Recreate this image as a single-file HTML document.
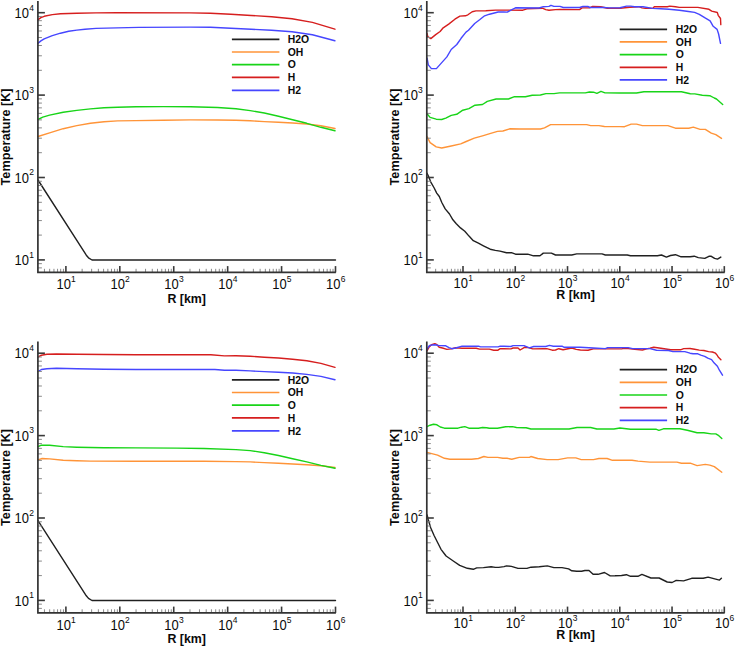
<!DOCTYPE html>
<html><head><meta charset="utf-8"><title>Temperature profiles</title>
<style>
html,body{margin:0;padding:0;background:#fff;}
body{width:735px;height:647px;overflow:hidden;}
svg{display:block;}
text{font-family:"Liberation Sans",sans-serif;fill:#0a0a0a;}
.tl{font-size:13px;}
.sp{font-size:8.5px;}
.tt2{font-size:12.7px;font-weight:bold;}
.tt{font-size:12.4px;font-weight:bold;}
.lg{font-size:10.4px;font-weight:bold;}
</style></head><body>
<svg width="735" height="647" viewBox="0 0 735 647">
<rect width="735" height="647" fill="#fff"/>
<polyline points="38.0,180.0 86.3,255.2 88.5,257.8 92.0,260.0 335.5,260.0" fill="none" stroke="#202020" stroke-width="1.4" stroke-linejoin="round" stroke-linecap="round"/>
<polyline points="38.0,136.5 49.6,132.8 63.2,128.7 76.8,125.6 90.4,123.2 104.0,121.7 117.6,120.9 136.0,120.6 163.2,120.2 190.4,119.9 217.6,120.0 236.0,120.2 250.2,120.8 264.3,121.6 278.5,122.3 292.6,123.0 306.8,124.0 320.9,125.8 335.0,128.5" fill="none" stroke="#ff9438" stroke-width="1.4" stroke-linejoin="round" stroke-linecap="round"/>
<polyline points="38.0,119.5 42.8,117.2 49.6,115.1 63.2,112.3 76.8,110.4 90.4,108.9 104.0,107.8 117.6,107.2 136.0,106.8 163.2,106.6 190.4,106.7 217.6,107.5 236.0,108.8 250.2,110.6 264.3,113.0 278.5,116.2 292.6,119.8 306.8,123.3 320.9,127.3 335.0,130.8" fill="none" stroke="#18d418" stroke-width="1.4" stroke-linejoin="round" stroke-linecap="round"/>
<polyline points="37.8,19.9 40.9,17.6 44.2,16.3 52.3,14.6 60.5,13.8 68.7,13.5 76.8,13.2 96.0,12.9 117.0,12.8 190.0,12.9 210.4,13.3 230.8,14.3 251.2,15.5 271.6,16.7 292.0,18.8 312.4,22.4 334.9,29.2" fill="none" stroke="#d61e1e" stroke-width="1.4" stroke-linejoin="round" stroke-linecap="round"/>
<polyline points="37.8,43.5 40.9,40.9 44.2,38.9 52.3,35.6 60.5,33.2 68.7,31.3 76.8,30.1 85.0,29.2 96.0,28.4 117.0,27.9 138.8,27.4 190.0,27.1 210.4,27.3 230.8,28.2 251.2,29.2 271.6,30.2 292.0,31.8 312.4,34.7 334.9,40.8" fill="none" stroke="#4646ff" stroke-width="1.4" stroke-linejoin="round" stroke-linecap="round"/>
<polyline points="427.1,173.2 429.1,177.8 430.8,182.1 434.2,188.0 436.7,193.1 439.3,196.5 441.8,202.5 445.2,208.9 449.5,214.0 452.9,219.8 456.3,223.7 460.5,227.9 464.8,231.3 469.0,236.1 473.3,240.7 478.4,243.2 483.4,245.8 490.2,249.2 495.3,250.4 500.0,251.1 506.5,252.7 511.4,252.7 515.5,254.2 527.8,254.2 533.5,255.8 540.0,255.8 543.3,253.1 551.4,253.1 555.5,255.0 571.8,255.0 576.7,253.9 602.0,253.9 605.3,255.0 627.2,255.0 630.5,255.8 657.4,255.8 661.5,255.0 666.4,257.1 670.5,255.5 675.4,254.7 681.1,256.8 690.1,256.8 694.2,256.2 698.3,257.6 704.8,258.4 708.9,256.3 711.3,256.3 714.6,258.4 717.5,259.1 720.8,257.1" fill="none" stroke="#202020" stroke-width="1.4" stroke-linejoin="round" stroke-linecap="round"/>
<polyline points="427.0,136.5 430.1,142.6 436.2,146.9 441.7,148.0 451.2,146.0 460.7,143.9 466.2,141.5 474.3,138.2 482.5,135.8 490.7,133.3 497.5,131.4 502.9,131.0 509.7,128.8 520.0,129.0 540.4,129.0 544.5,127.9 550.6,124.6 586.7,124.6 590.7,125.6 598.9,125.6 604.4,126.5 620.0,126.6 624.5,126.7 631.2,124.1 636.5,124.1 642.4,125.6 667.9,125.6 675.4,128.2 688.8,128.2 693.3,127.1 700.1,129.4 705.3,129.4 711.3,133.1 715.8,134.6 721.5,138.4" fill="none" stroke="#ff9438" stroke-width="1.4" stroke-linejoin="round" stroke-linecap="round"/>
<polyline points="427.0,113.7 430.1,117.4 436.2,119.2 441.7,119.5 445.8,118.1 451.2,115.4 456.7,114.3 462.8,110.2 468.9,108.6 475.0,105.2 482.5,104.5 487.3,101.4 496.1,99.0 508.4,99.0 514.5,96.7 525.4,96.7 532.2,95.2 540.4,95.0 545.9,93.6 554.0,93.6 559.5,92.9 585.3,92.9 589.4,92.0 593.5,92.2 596.9,93.3 601.0,91.3 605.0,92.9 620.0,93.0 636.5,93.0 643.9,91.7 681.4,91.7 690.3,93.8 694.8,93.9 702.3,95.3 709.8,95.7 714.3,98.0 716.5,99.0 722.7,104.6" fill="none" stroke="#18d418" stroke-width="1.4" stroke-linejoin="round" stroke-linecap="round"/>
<polyline points="427.1,33.4 427.7,36.5 430.8,38.6 435.7,34.6 440.1,31.5 443.2,27.8 448.7,24.1 454.9,19.2 459.9,16.1 465.4,15.8 467.9,14.8 472.2,11.7 475.9,10.9 485.8,10.8 495.7,10.1 504.0,10.1 522.9,10.2 526.9,8.8 542.4,8.2 545.7,9.6 549.0,10.2 555.5,9.6 560.0,9.5 579.6,9.6 582.0,7.9 589.4,7.9 592.7,6.5 600.8,6.7 607.3,8.2 620.0,8.2 629.8,7.2 638.8,6.7 642.0,7.9 645.3,8.4 652.7,8.4 654.3,6.7 667.3,6.7 669.8,6.1 675.5,6.7 679.3,7.4 697.8,7.4 709.0,9.3 711.7,11.1 717.3,12.5 718.2,15.3 720.5,18.5 720.8,24.6" fill="none" stroke="#d61e1e" stroke-width="1.4" stroke-linejoin="round" stroke-linecap="round"/>
<polyline points="427.1,58.1 428.3,64.9 431.4,68.6 436.4,68.6 441.3,63.1 446.9,56.9 451.2,49.5 456.8,44.5 461.1,38.3 466.0,32.1 468.5,30.3 474.7,23.5 479.6,19.8 484.6,15.8 489.5,14.2 498.2,12.0 504.0,12.0 507.3,12.1 511.4,9.8 515.5,7.8 539.2,8.0 543.3,6.7 549.0,6.4 551.0,5.3 553.9,6.4 560.0,6.4 563.3,7.5 579.6,7.5 582.9,6.5 587.8,6.5 590.2,7.5 604.1,7.5 609.0,7.9 620.0,7.7 626.5,6.1 630.6,6.1 634.7,6.7 642.9,6.7 652.7,8.4 660.8,8.8 669.0,9.3 679.3,10.2 688.5,11.5 694.6,12.4 699.3,14.3 705.5,18.2 710.1,20.9 713.2,26.3 717.1,29.4 718.6,34.0 720.5,43.3" fill="none" stroke="#4646ff" stroke-width="1.4" stroke-linejoin="round" stroke-linecap="round"/>
<polyline points="38.0,520.6 86.3,595.8 88.5,598.4 92.0,600.5 335.5,600.5" fill="none" stroke="#202020" stroke-width="1.4" stroke-linejoin="round" stroke-linecap="round"/>
<polyline points="38.0,459.8 42.1,458.5 49.6,458.9 63.2,460.2 76.8,460.7 90.4,461.1 136.0,461.3 204.0,461.3 236.0,461.6 250.2,461.9 264.3,462.6 278.5,463.3 292.6,464.0 306.8,464.7 320.9,465.8 335.0,467.5" fill="none" stroke="#ff9438" stroke-width="1.4" stroke-linejoin="round" stroke-linecap="round"/>
<polyline points="38.0,446.6 41.4,445.1 49.6,445.2 63.2,446.6 76.8,447.2 90.4,447.5 104.0,447.8 136.0,447.9 176.8,448.1 204.0,448.5 236.0,449.6 250.2,450.6 264.3,452.7 278.5,455.5 292.6,458.8 306.8,461.9 320.9,465.4 335.0,468.3" fill="none" stroke="#18d418" stroke-width="1.4" stroke-linejoin="round" stroke-linecap="round"/>
<polyline points="38.0,357.2 41.4,355.2 46.9,354.3 56.4,354.0 76.8,354.3 104.0,354.5 136.0,354.8 163.2,354.8 210.8,354.8 224.4,355.9 236.0,355.8 250.2,356.3 264.3,357.2 278.5,358.0 292.6,359.2 306.8,360.8 320.9,363.4 335.0,367.4" fill="none" stroke="#d61e1e" stroke-width="1.4" stroke-linejoin="round" stroke-linecap="round"/>
<polyline points="38.0,371.5 41.4,369.5 46.9,368.7 56.4,368.3 76.8,368.8 104.0,369.2 136.0,369.5 214.9,369.5 224.4,370.3 236.0,370.3 250.2,370.9 264.3,371.6 278.5,372.2 292.6,373.0 306.8,374.4 320.9,376.4 335.0,379.7" fill="none" stroke="#4646ff" stroke-width="1.4" stroke-linejoin="round" stroke-linecap="round"/>
<polyline points="427.1,515.0 428.2,519.5 430.8,528.0 434.2,535.7 437.6,542.5 441.0,549.3 446.1,556.0 452.9,560.8 459.7,565.4 467.3,568.3 473.3,569.3 476.7,567.9 483.4,567.6 491.1,566.8 495.3,567.4 498.7,567.4 504.0,566.6 506.5,565.9 511.4,566.4 518.0,568.4 526.9,568.4 531.0,567.2 539.2,566.8 547.3,565.9 553.9,567.6 562.0,567.6 568.6,568.9 571.8,570.8 576.7,571.3 581.6,571.3 584.9,570.5 589.0,570.5 593.1,574.3 598.0,574.3 604.5,572.5 610.2,575.9 615.0,575.8 621.5,575.5 626.4,574.7 630.5,576.3 637.9,576.3 641.9,574.4 650.9,578.0 659.1,578.0 667.2,582.0 672.1,582.5 676.2,580.4 683.6,580.9 691.7,578.3 703.2,578.3 708.1,577.1 719.5,580.1 721.4,578.3" fill="none" stroke="#202020" stroke-width="1.4" stroke-linejoin="round" stroke-linecap="round"/>
<polyline points="427.0,452.4 430.8,453.4 437.6,455.1 444.4,458.3 449.9,459.2 471.6,459.2 478.4,458.5 483.9,456.5 487.9,457.4 497.5,457.4 502.9,458.3 507.0,458.3 511.8,459.2 519.2,457.4 529.5,457.4 530.9,456.5 537.7,458.5 547.2,459.6 558.1,459.6 567.6,457.9 575.8,457.9 581.2,459.6 593.5,459.6 598.9,458.5 607.1,458.5 612.5,460.3 620.0,460.1 632.0,460.2 638.0,461.1 649.9,462.1 676.9,462.1 681.4,463.2 690.3,463.2 697.1,465.6 705.3,464.4 709.8,465.1 714.3,466.6 721.8,472.2" fill="none" stroke="#ff9438" stroke-width="1.4" stroke-linejoin="round" stroke-linecap="round"/>
<polyline points="427.0,426.6 430.1,425.2 433.5,424.3 436.9,424.8 440.3,427.0 444.4,428.2 458.0,428.2 461.4,427.2 464.8,426.6 468.9,428.2 478.4,428.2 482.5,427.5 486.6,427.7 489.3,428.3 497.5,428.3 505.6,426.8 512.4,426.6 516.5,427.5 524.0,427.7 526.1,427.7 530.9,429.0 569.0,429.0 577.1,427.5 590.7,427.5 596.9,429.0 613.9,429.0 620.0,428.0 630.5,429.2 655.9,429.2 658.9,430.3 663.4,428.8 679.9,428.8 687.3,430.3 697.1,432.7 703.8,432.7 711.3,433.9 715.8,433.9 718.8,435.7 721.8,438.6" fill="none" stroke="#18d418" stroke-width="1.4" stroke-linejoin="round" stroke-linecap="round"/>
<polyline points="427.0,350.8 428.9,347.3 431.6,344.7 434.9,343.7 436.5,344.3 439.2,347.3 442.5,348.0 446.9,349.4 451.2,348.9 455.6,347.8 462.1,348.3 476.2,348.3 479.5,349.1 489.3,349.1 493.7,350.2 498.0,350.2 500.2,348.7 504.0,348.8 510.9,348.9 513.1,348.0 518.0,348.0 520.1,350.0 524.5,347.3 528.3,347.6 532.7,348.9 543.5,348.7 546.8,348.7 552.2,350.2 555.5,350.0 558.8,348.7 563.1,349.8 571.8,348.0 576.2,349.4 580.4,350.0 588.0,350.2 593.4,348.9 621.7,348.9 623.9,348.3 628.2,348.6 634.8,349.4 642.4,350.0 646.7,348.9 650.0,348.3 653.8,347.3 660.9,348.3 670.7,349.8 680.5,349.8 683.7,348.6 690.0,348.5 694.6,349.3 699.3,350.1 703.9,350.5 708.6,351.6 712.4,352.0 715.5,353.2 717.1,355.1 718.2,357.0 720.9,359.7" fill="none" stroke="#d61e1e" stroke-width="1.4" stroke-linejoin="round" stroke-linecap="round"/>
<polyline points="427.0,349.4 428.9,346.2 430.5,345.1 434.9,344.7 439.2,345.6 445.8,345.8 449.0,347.6 451.8,348.7 455.6,348.0 462.1,346.2 478.4,346.2 480.6,346.9 498.0,346.9 500.2,346.2 504.0,346.3 510.9,346.5 513.1,345.6 524.0,345.6 529.4,347.8 533.7,346.5 545.7,346.5 549.5,345.4 553.3,346.2 562.0,346.2 564.2,347.3 580.0,347.2 593.4,348.0 605.4,348.6 607.6,347.6 628.2,347.6 632.6,348.6 650.0,348.6 656.5,350.2 668.5,350.5 672.9,351.6 684.8,351.6 690.0,353.2 693.1,353.8 697.3,353.6 700.8,355.1 704.7,356.3 707.8,358.2 711.6,359.6 714.0,362.8 717.4,366.3 719.4,370.2 722.5,375.2" fill="none" stroke="#4646ff" stroke-width="1.4" stroke-linejoin="round" stroke-linecap="round"/>
<line x1="37.90" y1="267.89" x2="41.90" y2="267.89" stroke="#8a8a8a" stroke-width="1"/>
<line x1="37.90" y1="263.67" x2="41.90" y2="263.67" stroke="#8a8a8a" stroke-width="1"/>
<line x1="37.90" y1="259.90" x2="44.90" y2="259.90" stroke="#3a3a3a" stroke-width="1.6"/>
<line x1="37.90" y1="235.10" x2="41.90" y2="235.10" stroke="#8a8a8a" stroke-width="1"/>
<line x1="37.90" y1="220.59" x2="41.90" y2="220.59" stroke="#8a8a8a" stroke-width="1"/>
<line x1="37.90" y1="210.29" x2="41.90" y2="210.29" stroke="#8a8a8a" stroke-width="1"/>
<line x1="37.90" y1="202.30" x2="41.90" y2="202.30" stroke="#8a8a8a" stroke-width="1"/>
<line x1="37.90" y1="195.78" x2="41.90" y2="195.78" stroke="#8a8a8a" stroke-width="1"/>
<line x1="37.90" y1="190.26" x2="41.90" y2="190.26" stroke="#8a8a8a" stroke-width="1"/>
<line x1="37.90" y1="185.49" x2="41.90" y2="185.49" stroke="#8a8a8a" stroke-width="1"/>
<line x1="37.90" y1="181.27" x2="41.90" y2="181.27" stroke="#8a8a8a" stroke-width="1"/>
<line x1="37.90" y1="177.50" x2="44.90" y2="177.50" stroke="#3a3a3a" stroke-width="1.6"/>
<line x1="37.90" y1="152.70" x2="41.90" y2="152.70" stroke="#8a8a8a" stroke-width="1"/>
<line x1="37.90" y1="138.19" x2="41.90" y2="138.19" stroke="#8a8a8a" stroke-width="1"/>
<line x1="37.90" y1="127.89" x2="41.90" y2="127.89" stroke="#8a8a8a" stroke-width="1"/>
<line x1="37.90" y1="119.90" x2="41.90" y2="119.90" stroke="#8a8a8a" stroke-width="1"/>
<line x1="37.90" y1="113.38" x2="41.90" y2="113.38" stroke="#8a8a8a" stroke-width="1"/>
<line x1="37.90" y1="107.86" x2="41.90" y2="107.86" stroke="#8a8a8a" stroke-width="1"/>
<line x1="37.90" y1="103.09" x2="41.90" y2="103.09" stroke="#8a8a8a" stroke-width="1"/>
<line x1="37.90" y1="98.87" x2="41.90" y2="98.87" stroke="#8a8a8a" stroke-width="1"/>
<line x1="37.90" y1="95.10" x2="44.90" y2="95.10" stroke="#3a3a3a" stroke-width="1.6"/>
<line x1="37.90" y1="70.30" x2="41.90" y2="70.30" stroke="#8a8a8a" stroke-width="1"/>
<line x1="37.90" y1="55.79" x2="41.90" y2="55.79" stroke="#8a8a8a" stroke-width="1"/>
<line x1="37.90" y1="45.49" x2="41.90" y2="45.49" stroke="#8a8a8a" stroke-width="1"/>
<line x1="37.90" y1="37.50" x2="41.90" y2="37.50" stroke="#8a8a8a" stroke-width="1"/>
<line x1="37.90" y1="30.98" x2="41.90" y2="30.98" stroke="#8a8a8a" stroke-width="1"/>
<line x1="37.90" y1="25.46" x2="41.90" y2="25.46" stroke="#8a8a8a" stroke-width="1"/>
<line x1="37.90" y1="20.69" x2="41.90" y2="20.69" stroke="#8a8a8a" stroke-width="1"/>
<line x1="37.90" y1="16.47" x2="41.90" y2="16.47" stroke="#8a8a8a" stroke-width="1"/>
<line x1="37.90" y1="12.70" x2="44.90" y2="12.70" stroke="#3a3a3a" stroke-width="1.6"/>
<line x1="44.44" y1="272.40" x2="44.44" y2="268.80" stroke="#8a8a8a" stroke-width="1"/>
<line x1="49.67" y1="272.40" x2="49.67" y2="268.80" stroke="#8a8a8a" stroke-width="1"/>
<line x1="53.94" y1="272.40" x2="53.94" y2="268.80" stroke="#8a8a8a" stroke-width="1"/>
<line x1="57.55" y1="272.40" x2="57.55" y2="268.80" stroke="#8a8a8a" stroke-width="1"/>
<line x1="60.67" y1="272.40" x2="60.67" y2="268.80" stroke="#8a8a8a" stroke-width="1"/>
<line x1="63.43" y1="272.40" x2="63.43" y2="268.80" stroke="#8a8a8a" stroke-width="1"/>
<line x1="65.90" y1="272.40" x2="65.90" y2="266.10" stroke="#3a3a3a" stroke-width="1.6"/>
<line x1="82.13" y1="272.40" x2="82.13" y2="268.80" stroke="#8a8a8a" stroke-width="1"/>
<line x1="91.63" y1="272.40" x2="91.63" y2="268.80" stroke="#8a8a8a" stroke-width="1"/>
<line x1="98.36" y1="272.40" x2="98.36" y2="268.80" stroke="#8a8a8a" stroke-width="1"/>
<line x1="103.59" y1="272.40" x2="103.59" y2="268.80" stroke="#8a8a8a" stroke-width="1"/>
<line x1="107.86" y1="272.40" x2="107.86" y2="268.80" stroke="#8a8a8a" stroke-width="1"/>
<line x1="111.47" y1="272.40" x2="111.47" y2="268.80" stroke="#8a8a8a" stroke-width="1"/>
<line x1="114.59" y1="272.40" x2="114.59" y2="268.80" stroke="#8a8a8a" stroke-width="1"/>
<line x1="117.35" y1="272.40" x2="117.35" y2="268.80" stroke="#8a8a8a" stroke-width="1"/>
<line x1="119.82" y1="272.40" x2="119.82" y2="266.10" stroke="#3a3a3a" stroke-width="1.6"/>
<line x1="136.05" y1="272.40" x2="136.05" y2="268.80" stroke="#8a8a8a" stroke-width="1"/>
<line x1="145.55" y1="272.40" x2="145.55" y2="268.80" stroke="#8a8a8a" stroke-width="1"/>
<line x1="152.28" y1="272.40" x2="152.28" y2="268.80" stroke="#8a8a8a" stroke-width="1"/>
<line x1="157.51" y1="272.40" x2="157.51" y2="268.80" stroke="#8a8a8a" stroke-width="1"/>
<line x1="161.78" y1="272.40" x2="161.78" y2="268.80" stroke="#8a8a8a" stroke-width="1"/>
<line x1="165.39" y1="272.40" x2="165.39" y2="268.80" stroke="#8a8a8a" stroke-width="1"/>
<line x1="168.51" y1="272.40" x2="168.51" y2="268.80" stroke="#8a8a8a" stroke-width="1"/>
<line x1="171.27" y1="272.40" x2="171.27" y2="268.80" stroke="#8a8a8a" stroke-width="1"/>
<line x1="173.74" y1="272.40" x2="173.74" y2="266.10" stroke="#3a3a3a" stroke-width="1.6"/>
<line x1="189.97" y1="272.40" x2="189.97" y2="268.80" stroke="#8a8a8a" stroke-width="1"/>
<line x1="199.47" y1="272.40" x2="199.47" y2="268.80" stroke="#8a8a8a" stroke-width="1"/>
<line x1="206.20" y1="272.40" x2="206.20" y2="268.80" stroke="#8a8a8a" stroke-width="1"/>
<line x1="211.43" y1="272.40" x2="211.43" y2="268.80" stroke="#8a8a8a" stroke-width="1"/>
<line x1="215.70" y1="272.40" x2="215.70" y2="268.80" stroke="#8a8a8a" stroke-width="1"/>
<line x1="219.31" y1="272.40" x2="219.31" y2="268.80" stroke="#8a8a8a" stroke-width="1"/>
<line x1="222.43" y1="272.40" x2="222.43" y2="268.80" stroke="#8a8a8a" stroke-width="1"/>
<line x1="225.19" y1="272.40" x2="225.19" y2="268.80" stroke="#8a8a8a" stroke-width="1"/>
<line x1="227.66" y1="272.40" x2="227.66" y2="266.10" stroke="#3a3a3a" stroke-width="1.6"/>
<line x1="243.89" y1="272.40" x2="243.89" y2="268.80" stroke="#8a8a8a" stroke-width="1"/>
<line x1="253.39" y1="272.40" x2="253.39" y2="268.80" stroke="#8a8a8a" stroke-width="1"/>
<line x1="260.12" y1="272.40" x2="260.12" y2="268.80" stroke="#8a8a8a" stroke-width="1"/>
<line x1="265.35" y1="272.40" x2="265.35" y2="268.80" stroke="#8a8a8a" stroke-width="1"/>
<line x1="269.62" y1="272.40" x2="269.62" y2="268.80" stroke="#8a8a8a" stroke-width="1"/>
<line x1="273.23" y1="272.40" x2="273.23" y2="268.80" stroke="#8a8a8a" stroke-width="1"/>
<line x1="276.35" y1="272.40" x2="276.35" y2="268.80" stroke="#8a8a8a" stroke-width="1"/>
<line x1="279.11" y1="272.40" x2="279.11" y2="268.80" stroke="#8a8a8a" stroke-width="1"/>
<line x1="281.58" y1="272.40" x2="281.58" y2="266.10" stroke="#3a3a3a" stroke-width="1.6"/>
<line x1="297.81" y1="272.40" x2="297.81" y2="268.80" stroke="#8a8a8a" stroke-width="1"/>
<line x1="307.31" y1="272.40" x2="307.31" y2="268.80" stroke="#8a8a8a" stroke-width="1"/>
<line x1="314.04" y1="272.40" x2="314.04" y2="268.80" stroke="#8a8a8a" stroke-width="1"/>
<line x1="319.27" y1="272.40" x2="319.27" y2="268.80" stroke="#8a8a8a" stroke-width="1"/>
<line x1="323.54" y1="272.40" x2="323.54" y2="268.80" stroke="#8a8a8a" stroke-width="1"/>
<line x1="327.15" y1="272.40" x2="327.15" y2="268.80" stroke="#8a8a8a" stroke-width="1"/>
<line x1="330.27" y1="272.40" x2="330.27" y2="268.80" stroke="#8a8a8a" stroke-width="1"/>
<line x1="333.03" y1="272.40" x2="333.03" y2="268.80" stroke="#8a8a8a" stroke-width="1"/>
<line x1="335.50" y1="272.40" x2="335.50" y2="266.10" stroke="#3a3a3a" stroke-width="1.6"/>
<path d="M37.90 1.10 V272.40 H335.90" fill="none" stroke="#333333" stroke-width="1.7"/>
<text class="tl" text-anchor="end" transform="translate(29.00 265.10) scale(1 1.12)">10</text>
<text class="sp" transform="translate(29.20 257.70) scale(1 1.12)">1</text>
<text class="tl" text-anchor="end" transform="translate(29.00 182.70) scale(1 1.12)">10</text>
<text class="sp" transform="translate(29.20 175.30) scale(1 1.12)">2</text>
<text class="tl" text-anchor="end" transform="translate(29.00 100.30) scale(1 1.12)">10</text>
<text class="sp" transform="translate(29.20 92.90) scale(1 1.12)">3</text>
<text class="tl" text-anchor="end" transform="translate(29.00 17.90) scale(1 1.12)">10</text>
<text class="sp" transform="translate(29.20 10.50) scale(1 1.12)">4</text>
<text class="tl" transform="translate(56.50 289.40) scale(1 1.12)">10</text>
<text class="sp" transform="translate(71.10 282.30) scale(1 1.12)">1</text>
<text class="tl" transform="translate(110.42 289.40) scale(1 1.12)">10</text>
<text class="sp" transform="translate(125.02 282.30) scale(1 1.12)">2</text>
<text class="tl" transform="translate(164.34 289.40) scale(1 1.12)">10</text>
<text class="sp" transform="translate(178.94 282.30) scale(1 1.12)">3</text>
<text class="tl" transform="translate(218.26 289.40) scale(1 1.12)">10</text>
<text class="sp" transform="translate(232.86 282.30) scale(1 1.12)">4</text>
<text class="tl" transform="translate(272.18 289.40) scale(1 1.12)">10</text>
<text class="sp" transform="translate(286.78 282.30) scale(1 1.12)">5</text>
<text class="tl" transform="translate(326.10 289.40) scale(1 1.12)">10</text>
<text class="sp" transform="translate(340.70 282.30) scale(1 1.12)">6</text>
<text x="186.70" y="302.60" class="tt" text-anchor="middle">R [km]</text>
<text x="0" y="0" class="tt2" text-anchor="middle" transform="translate(9.90 136.95) rotate(-90)">Temperature [K]</text>
<line x1="426.80" y1="267.89" x2="430.80" y2="267.89" stroke="#8a8a8a" stroke-width="1"/>
<line x1="426.80" y1="263.67" x2="430.80" y2="263.67" stroke="#8a8a8a" stroke-width="1"/>
<line x1="426.80" y1="259.90" x2="433.80" y2="259.90" stroke="#3a3a3a" stroke-width="1.6"/>
<line x1="426.80" y1="235.10" x2="430.80" y2="235.10" stroke="#8a8a8a" stroke-width="1"/>
<line x1="426.80" y1="220.59" x2="430.80" y2="220.59" stroke="#8a8a8a" stroke-width="1"/>
<line x1="426.80" y1="210.29" x2="430.80" y2="210.29" stroke="#8a8a8a" stroke-width="1"/>
<line x1="426.80" y1="202.30" x2="430.80" y2="202.30" stroke="#8a8a8a" stroke-width="1"/>
<line x1="426.80" y1="195.78" x2="430.80" y2="195.78" stroke="#8a8a8a" stroke-width="1"/>
<line x1="426.80" y1="190.26" x2="430.80" y2="190.26" stroke="#8a8a8a" stroke-width="1"/>
<line x1="426.80" y1="185.49" x2="430.80" y2="185.49" stroke="#8a8a8a" stroke-width="1"/>
<line x1="426.80" y1="181.27" x2="430.80" y2="181.27" stroke="#8a8a8a" stroke-width="1"/>
<line x1="426.80" y1="177.50" x2="433.80" y2="177.50" stroke="#3a3a3a" stroke-width="1.6"/>
<line x1="426.80" y1="152.70" x2="430.80" y2="152.70" stroke="#8a8a8a" stroke-width="1"/>
<line x1="426.80" y1="138.19" x2="430.80" y2="138.19" stroke="#8a8a8a" stroke-width="1"/>
<line x1="426.80" y1="127.89" x2="430.80" y2="127.89" stroke="#8a8a8a" stroke-width="1"/>
<line x1="426.80" y1="119.90" x2="430.80" y2="119.90" stroke="#8a8a8a" stroke-width="1"/>
<line x1="426.80" y1="113.38" x2="430.80" y2="113.38" stroke="#8a8a8a" stroke-width="1"/>
<line x1="426.80" y1="107.86" x2="430.80" y2="107.86" stroke="#8a8a8a" stroke-width="1"/>
<line x1="426.80" y1="103.09" x2="430.80" y2="103.09" stroke="#8a8a8a" stroke-width="1"/>
<line x1="426.80" y1="98.87" x2="430.80" y2="98.87" stroke="#8a8a8a" stroke-width="1"/>
<line x1="426.80" y1="95.10" x2="433.80" y2="95.10" stroke="#3a3a3a" stroke-width="1.6"/>
<line x1="426.80" y1="70.30" x2="430.80" y2="70.30" stroke="#8a8a8a" stroke-width="1"/>
<line x1="426.80" y1="55.79" x2="430.80" y2="55.79" stroke="#8a8a8a" stroke-width="1"/>
<line x1="426.80" y1="45.49" x2="430.80" y2="45.49" stroke="#8a8a8a" stroke-width="1"/>
<line x1="426.80" y1="37.50" x2="430.80" y2="37.50" stroke="#8a8a8a" stroke-width="1"/>
<line x1="426.80" y1="30.98" x2="430.80" y2="30.98" stroke="#8a8a8a" stroke-width="1"/>
<line x1="426.80" y1="25.46" x2="430.80" y2="25.46" stroke="#8a8a8a" stroke-width="1"/>
<line x1="426.80" y1="20.69" x2="430.80" y2="20.69" stroke="#8a8a8a" stroke-width="1"/>
<line x1="426.80" y1="16.47" x2="430.80" y2="16.47" stroke="#8a8a8a" stroke-width="1"/>
<line x1="426.80" y1="12.70" x2="433.80" y2="12.70" stroke="#3a3a3a" stroke-width="1.6"/>
<line x1="435.67" y1="272.40" x2="435.67" y2="268.80" stroke="#8a8a8a" stroke-width="1"/>
<line x1="442.20" y1="272.40" x2="442.20" y2="268.80" stroke="#8a8a8a" stroke-width="1"/>
<line x1="447.27" y1="272.40" x2="447.27" y2="268.80" stroke="#8a8a8a" stroke-width="1"/>
<line x1="451.41" y1="272.40" x2="451.41" y2="268.80" stroke="#8a8a8a" stroke-width="1"/>
<line x1="454.90" y1="272.40" x2="454.90" y2="268.80" stroke="#8a8a8a" stroke-width="1"/>
<line x1="457.94" y1="272.40" x2="457.94" y2="268.80" stroke="#8a8a8a" stroke-width="1"/>
<line x1="460.61" y1="272.40" x2="460.61" y2="268.80" stroke="#8a8a8a" stroke-width="1"/>
<line x1="463.00" y1="272.40" x2="463.00" y2="266.10" stroke="#3a3a3a" stroke-width="1.6"/>
<line x1="478.73" y1="272.40" x2="478.73" y2="268.80" stroke="#8a8a8a" stroke-width="1"/>
<line x1="487.93" y1="272.40" x2="487.93" y2="268.80" stroke="#8a8a8a" stroke-width="1"/>
<line x1="494.46" y1="272.40" x2="494.46" y2="268.80" stroke="#8a8a8a" stroke-width="1"/>
<line x1="499.53" y1="272.40" x2="499.53" y2="268.80" stroke="#8a8a8a" stroke-width="1"/>
<line x1="503.67" y1="272.40" x2="503.67" y2="268.80" stroke="#8a8a8a" stroke-width="1"/>
<line x1="507.16" y1="272.40" x2="507.16" y2="268.80" stroke="#8a8a8a" stroke-width="1"/>
<line x1="510.20" y1="272.40" x2="510.20" y2="268.80" stroke="#8a8a8a" stroke-width="1"/>
<line x1="512.87" y1="272.40" x2="512.87" y2="268.80" stroke="#8a8a8a" stroke-width="1"/>
<line x1="515.26" y1="272.40" x2="515.26" y2="266.10" stroke="#3a3a3a" stroke-width="1.6"/>
<line x1="530.99" y1="272.40" x2="530.99" y2="268.80" stroke="#8a8a8a" stroke-width="1"/>
<line x1="540.19" y1="272.40" x2="540.19" y2="268.80" stroke="#8a8a8a" stroke-width="1"/>
<line x1="546.72" y1="272.40" x2="546.72" y2="268.80" stroke="#8a8a8a" stroke-width="1"/>
<line x1="551.79" y1="272.40" x2="551.79" y2="268.80" stroke="#8a8a8a" stroke-width="1"/>
<line x1="555.93" y1="272.40" x2="555.93" y2="268.80" stroke="#8a8a8a" stroke-width="1"/>
<line x1="559.42" y1="272.40" x2="559.42" y2="268.80" stroke="#8a8a8a" stroke-width="1"/>
<line x1="562.46" y1="272.40" x2="562.46" y2="268.80" stroke="#8a8a8a" stroke-width="1"/>
<line x1="565.13" y1="272.40" x2="565.13" y2="268.80" stroke="#8a8a8a" stroke-width="1"/>
<line x1="567.52" y1="272.40" x2="567.52" y2="266.10" stroke="#3a3a3a" stroke-width="1.6"/>
<line x1="583.25" y1="272.40" x2="583.25" y2="268.80" stroke="#8a8a8a" stroke-width="1"/>
<line x1="592.45" y1="272.40" x2="592.45" y2="268.80" stroke="#8a8a8a" stroke-width="1"/>
<line x1="598.98" y1="272.40" x2="598.98" y2="268.80" stroke="#8a8a8a" stroke-width="1"/>
<line x1="604.05" y1="272.40" x2="604.05" y2="268.80" stroke="#8a8a8a" stroke-width="1"/>
<line x1="608.19" y1="272.40" x2="608.19" y2="268.80" stroke="#8a8a8a" stroke-width="1"/>
<line x1="611.68" y1="272.40" x2="611.68" y2="268.80" stroke="#8a8a8a" stroke-width="1"/>
<line x1="614.72" y1="272.40" x2="614.72" y2="268.80" stroke="#8a8a8a" stroke-width="1"/>
<line x1="617.39" y1="272.40" x2="617.39" y2="268.80" stroke="#8a8a8a" stroke-width="1"/>
<line x1="619.78" y1="272.40" x2="619.78" y2="266.10" stroke="#3a3a3a" stroke-width="1.6"/>
<line x1="635.51" y1="272.40" x2="635.51" y2="268.80" stroke="#8a8a8a" stroke-width="1"/>
<line x1="644.71" y1="272.40" x2="644.71" y2="268.80" stroke="#8a8a8a" stroke-width="1"/>
<line x1="651.24" y1="272.40" x2="651.24" y2="268.80" stroke="#8a8a8a" stroke-width="1"/>
<line x1="656.31" y1="272.40" x2="656.31" y2="268.80" stroke="#8a8a8a" stroke-width="1"/>
<line x1="660.45" y1="272.40" x2="660.45" y2="268.80" stroke="#8a8a8a" stroke-width="1"/>
<line x1="663.94" y1="272.40" x2="663.94" y2="268.80" stroke="#8a8a8a" stroke-width="1"/>
<line x1="666.98" y1="272.40" x2="666.98" y2="268.80" stroke="#8a8a8a" stroke-width="1"/>
<line x1="669.65" y1="272.40" x2="669.65" y2="268.80" stroke="#8a8a8a" stroke-width="1"/>
<line x1="672.04" y1="272.40" x2="672.04" y2="266.10" stroke="#3a3a3a" stroke-width="1.6"/>
<line x1="687.77" y1="272.40" x2="687.77" y2="268.80" stroke="#8a8a8a" stroke-width="1"/>
<line x1="696.97" y1="272.40" x2="696.97" y2="268.80" stroke="#8a8a8a" stroke-width="1"/>
<line x1="703.50" y1="272.40" x2="703.50" y2="268.80" stroke="#8a8a8a" stroke-width="1"/>
<line x1="708.57" y1="272.40" x2="708.57" y2="268.80" stroke="#8a8a8a" stroke-width="1"/>
<line x1="712.71" y1="272.40" x2="712.71" y2="268.80" stroke="#8a8a8a" stroke-width="1"/>
<line x1="716.20" y1="272.40" x2="716.20" y2="268.80" stroke="#8a8a8a" stroke-width="1"/>
<line x1="719.24" y1="272.40" x2="719.24" y2="268.80" stroke="#8a8a8a" stroke-width="1"/>
<line x1="721.91" y1="272.40" x2="721.91" y2="268.80" stroke="#8a8a8a" stroke-width="1"/>
<line x1="724.30" y1="272.40" x2="724.30" y2="266.10" stroke="#3a3a3a" stroke-width="1.6"/>
<path d="M426.80 1.10 V272.40 H724.70" fill="none" stroke="#333333" stroke-width="1.7"/>
<text class="tl" text-anchor="end" transform="translate(417.90 265.10) scale(1 1.12)">10</text>
<text class="sp" transform="translate(418.10 257.70) scale(1 1.12)">1</text>
<text class="tl" text-anchor="end" transform="translate(417.90 182.70) scale(1 1.12)">10</text>
<text class="sp" transform="translate(418.10 175.30) scale(1 1.12)">2</text>
<text class="tl" text-anchor="end" transform="translate(417.90 100.30) scale(1 1.12)">10</text>
<text class="sp" transform="translate(418.10 92.90) scale(1 1.12)">3</text>
<text class="tl" text-anchor="end" transform="translate(417.90 17.90) scale(1 1.12)">10</text>
<text class="sp" transform="translate(418.10 10.50) scale(1 1.12)">4</text>
<text class="tl" transform="translate(453.60 287.90) scale(1 1.12)">10</text>
<text class="sp" transform="translate(468.20 280.80) scale(1 1.12)">1</text>
<text class="tl" transform="translate(505.86 287.90) scale(1 1.12)">10</text>
<text class="sp" transform="translate(520.46 280.80) scale(1 1.12)">2</text>
<text class="tl" transform="translate(558.12 287.90) scale(1 1.12)">10</text>
<text class="sp" transform="translate(572.72 280.80) scale(1 1.12)">3</text>
<text class="tl" transform="translate(610.38 287.90) scale(1 1.12)">10</text>
<text class="sp" transform="translate(624.98 280.80) scale(1 1.12)">4</text>
<text class="tl" transform="translate(662.64 287.90) scale(1 1.12)">10</text>
<text class="sp" transform="translate(677.24 280.80) scale(1 1.12)">5</text>
<text class="tl" transform="translate(714.90 287.90) scale(1 1.12)">10</text>
<text class="sp" transform="translate(729.50 280.80) scale(1 1.12)">6</text>
<text x="575.55" y="298.80" class="tt" text-anchor="middle">R [km]</text>
<text x="0" y="0" class="tt2" text-anchor="middle" transform="translate(399.00 136.95) rotate(-90)">Temperature [K]</text>
<line x1="37.90" y1="608.39" x2="41.90" y2="608.39" stroke="#8a8a8a" stroke-width="1"/>
<line x1="37.90" y1="604.17" x2="41.90" y2="604.17" stroke="#8a8a8a" stroke-width="1"/>
<line x1="37.90" y1="600.40" x2="44.90" y2="600.40" stroke="#3a3a3a" stroke-width="1.6"/>
<line x1="37.90" y1="575.60" x2="41.90" y2="575.60" stroke="#8a8a8a" stroke-width="1"/>
<line x1="37.90" y1="561.09" x2="41.90" y2="561.09" stroke="#8a8a8a" stroke-width="1"/>
<line x1="37.90" y1="550.79" x2="41.90" y2="550.79" stroke="#8a8a8a" stroke-width="1"/>
<line x1="37.90" y1="542.80" x2="41.90" y2="542.80" stroke="#8a8a8a" stroke-width="1"/>
<line x1="37.90" y1="536.28" x2="41.90" y2="536.28" stroke="#8a8a8a" stroke-width="1"/>
<line x1="37.90" y1="530.76" x2="41.90" y2="530.76" stroke="#8a8a8a" stroke-width="1"/>
<line x1="37.90" y1="525.99" x2="41.90" y2="525.99" stroke="#8a8a8a" stroke-width="1"/>
<line x1="37.90" y1="521.77" x2="41.90" y2="521.77" stroke="#8a8a8a" stroke-width="1"/>
<line x1="37.90" y1="518.00" x2="44.90" y2="518.00" stroke="#3a3a3a" stroke-width="1.6"/>
<line x1="37.90" y1="493.20" x2="41.90" y2="493.20" stroke="#8a8a8a" stroke-width="1"/>
<line x1="37.90" y1="478.69" x2="41.90" y2="478.69" stroke="#8a8a8a" stroke-width="1"/>
<line x1="37.90" y1="468.39" x2="41.90" y2="468.39" stroke="#8a8a8a" stroke-width="1"/>
<line x1="37.90" y1="460.40" x2="41.90" y2="460.40" stroke="#8a8a8a" stroke-width="1"/>
<line x1="37.90" y1="453.88" x2="41.90" y2="453.88" stroke="#8a8a8a" stroke-width="1"/>
<line x1="37.90" y1="448.36" x2="41.90" y2="448.36" stroke="#8a8a8a" stroke-width="1"/>
<line x1="37.90" y1="443.59" x2="41.90" y2="443.59" stroke="#8a8a8a" stroke-width="1"/>
<line x1="37.90" y1="439.37" x2="41.90" y2="439.37" stroke="#8a8a8a" stroke-width="1"/>
<line x1="37.90" y1="435.60" x2="44.90" y2="435.60" stroke="#3a3a3a" stroke-width="1.6"/>
<line x1="37.90" y1="410.80" x2="41.90" y2="410.80" stroke="#8a8a8a" stroke-width="1"/>
<line x1="37.90" y1="396.29" x2="41.90" y2="396.29" stroke="#8a8a8a" stroke-width="1"/>
<line x1="37.90" y1="385.99" x2="41.90" y2="385.99" stroke="#8a8a8a" stroke-width="1"/>
<line x1="37.90" y1="378.00" x2="41.90" y2="378.00" stroke="#8a8a8a" stroke-width="1"/>
<line x1="37.90" y1="371.48" x2="41.90" y2="371.48" stroke="#8a8a8a" stroke-width="1"/>
<line x1="37.90" y1="365.96" x2="41.90" y2="365.96" stroke="#8a8a8a" stroke-width="1"/>
<line x1="37.90" y1="361.19" x2="41.90" y2="361.19" stroke="#8a8a8a" stroke-width="1"/>
<line x1="37.90" y1="356.97" x2="41.90" y2="356.97" stroke="#8a8a8a" stroke-width="1"/>
<line x1="37.90" y1="353.20" x2="44.90" y2="353.20" stroke="#3a3a3a" stroke-width="1.6"/>
<line x1="44.44" y1="612.90" x2="44.44" y2="609.30" stroke="#8a8a8a" stroke-width="1"/>
<line x1="49.67" y1="612.90" x2="49.67" y2="609.30" stroke="#8a8a8a" stroke-width="1"/>
<line x1="53.94" y1="612.90" x2="53.94" y2="609.30" stroke="#8a8a8a" stroke-width="1"/>
<line x1="57.55" y1="612.90" x2="57.55" y2="609.30" stroke="#8a8a8a" stroke-width="1"/>
<line x1="60.67" y1="612.90" x2="60.67" y2="609.30" stroke="#8a8a8a" stroke-width="1"/>
<line x1="63.43" y1="612.90" x2="63.43" y2="609.30" stroke="#8a8a8a" stroke-width="1"/>
<line x1="65.90" y1="612.90" x2="65.90" y2="606.60" stroke="#3a3a3a" stroke-width="1.6"/>
<line x1="82.13" y1="612.90" x2="82.13" y2="609.30" stroke="#8a8a8a" stroke-width="1"/>
<line x1="91.63" y1="612.90" x2="91.63" y2="609.30" stroke="#8a8a8a" stroke-width="1"/>
<line x1="98.36" y1="612.90" x2="98.36" y2="609.30" stroke="#8a8a8a" stroke-width="1"/>
<line x1="103.59" y1="612.90" x2="103.59" y2="609.30" stroke="#8a8a8a" stroke-width="1"/>
<line x1="107.86" y1="612.90" x2="107.86" y2="609.30" stroke="#8a8a8a" stroke-width="1"/>
<line x1="111.47" y1="612.90" x2="111.47" y2="609.30" stroke="#8a8a8a" stroke-width="1"/>
<line x1="114.59" y1="612.90" x2="114.59" y2="609.30" stroke="#8a8a8a" stroke-width="1"/>
<line x1="117.35" y1="612.90" x2="117.35" y2="609.30" stroke="#8a8a8a" stroke-width="1"/>
<line x1="119.82" y1="612.90" x2="119.82" y2="606.60" stroke="#3a3a3a" stroke-width="1.6"/>
<line x1="136.05" y1="612.90" x2="136.05" y2="609.30" stroke="#8a8a8a" stroke-width="1"/>
<line x1="145.55" y1="612.90" x2="145.55" y2="609.30" stroke="#8a8a8a" stroke-width="1"/>
<line x1="152.28" y1="612.90" x2="152.28" y2="609.30" stroke="#8a8a8a" stroke-width="1"/>
<line x1="157.51" y1="612.90" x2="157.51" y2="609.30" stroke="#8a8a8a" stroke-width="1"/>
<line x1="161.78" y1="612.90" x2="161.78" y2="609.30" stroke="#8a8a8a" stroke-width="1"/>
<line x1="165.39" y1="612.90" x2="165.39" y2="609.30" stroke="#8a8a8a" stroke-width="1"/>
<line x1="168.51" y1="612.90" x2="168.51" y2="609.30" stroke="#8a8a8a" stroke-width="1"/>
<line x1="171.27" y1="612.90" x2="171.27" y2="609.30" stroke="#8a8a8a" stroke-width="1"/>
<line x1="173.74" y1="612.90" x2="173.74" y2="606.60" stroke="#3a3a3a" stroke-width="1.6"/>
<line x1="189.97" y1="612.90" x2="189.97" y2="609.30" stroke="#8a8a8a" stroke-width="1"/>
<line x1="199.47" y1="612.90" x2="199.47" y2="609.30" stroke="#8a8a8a" stroke-width="1"/>
<line x1="206.20" y1="612.90" x2="206.20" y2="609.30" stroke="#8a8a8a" stroke-width="1"/>
<line x1="211.43" y1="612.90" x2="211.43" y2="609.30" stroke="#8a8a8a" stroke-width="1"/>
<line x1="215.70" y1="612.90" x2="215.70" y2="609.30" stroke="#8a8a8a" stroke-width="1"/>
<line x1="219.31" y1="612.90" x2="219.31" y2="609.30" stroke="#8a8a8a" stroke-width="1"/>
<line x1="222.43" y1="612.90" x2="222.43" y2="609.30" stroke="#8a8a8a" stroke-width="1"/>
<line x1="225.19" y1="612.90" x2="225.19" y2="609.30" stroke="#8a8a8a" stroke-width="1"/>
<line x1="227.66" y1="612.90" x2="227.66" y2="606.60" stroke="#3a3a3a" stroke-width="1.6"/>
<line x1="243.89" y1="612.90" x2="243.89" y2="609.30" stroke="#8a8a8a" stroke-width="1"/>
<line x1="253.39" y1="612.90" x2="253.39" y2="609.30" stroke="#8a8a8a" stroke-width="1"/>
<line x1="260.12" y1="612.90" x2="260.12" y2="609.30" stroke="#8a8a8a" stroke-width="1"/>
<line x1="265.35" y1="612.90" x2="265.35" y2="609.30" stroke="#8a8a8a" stroke-width="1"/>
<line x1="269.62" y1="612.90" x2="269.62" y2="609.30" stroke="#8a8a8a" stroke-width="1"/>
<line x1="273.23" y1="612.90" x2="273.23" y2="609.30" stroke="#8a8a8a" stroke-width="1"/>
<line x1="276.35" y1="612.90" x2="276.35" y2="609.30" stroke="#8a8a8a" stroke-width="1"/>
<line x1="279.11" y1="612.90" x2="279.11" y2="609.30" stroke="#8a8a8a" stroke-width="1"/>
<line x1="281.58" y1="612.90" x2="281.58" y2="606.60" stroke="#3a3a3a" stroke-width="1.6"/>
<line x1="297.81" y1="612.90" x2="297.81" y2="609.30" stroke="#8a8a8a" stroke-width="1"/>
<line x1="307.31" y1="612.90" x2="307.31" y2="609.30" stroke="#8a8a8a" stroke-width="1"/>
<line x1="314.04" y1="612.90" x2="314.04" y2="609.30" stroke="#8a8a8a" stroke-width="1"/>
<line x1="319.27" y1="612.90" x2="319.27" y2="609.30" stroke="#8a8a8a" stroke-width="1"/>
<line x1="323.54" y1="612.90" x2="323.54" y2="609.30" stroke="#8a8a8a" stroke-width="1"/>
<line x1="327.15" y1="612.90" x2="327.15" y2="609.30" stroke="#8a8a8a" stroke-width="1"/>
<line x1="330.27" y1="612.90" x2="330.27" y2="609.30" stroke="#8a8a8a" stroke-width="1"/>
<line x1="333.03" y1="612.90" x2="333.03" y2="609.30" stroke="#8a8a8a" stroke-width="1"/>
<line x1="335.50" y1="612.90" x2="335.50" y2="606.60" stroke="#3a3a3a" stroke-width="1.6"/>
<path d="M37.90 341.60 V612.90 H335.90" fill="none" stroke="#333333" stroke-width="1.7"/>
<text class="tl" text-anchor="end" transform="translate(29.00 605.60) scale(1 1.12)">10</text>
<text class="sp" transform="translate(29.20 598.20) scale(1 1.12)">1</text>
<text class="tl" text-anchor="end" transform="translate(29.00 523.20) scale(1 1.12)">10</text>
<text class="sp" transform="translate(29.20 515.80) scale(1 1.12)">2</text>
<text class="tl" text-anchor="end" transform="translate(29.00 440.80) scale(1 1.12)">10</text>
<text class="sp" transform="translate(29.20 433.40) scale(1 1.12)">3</text>
<text class="tl" text-anchor="end" transform="translate(29.00 358.40) scale(1 1.12)">10</text>
<text class="sp" transform="translate(29.20 351.00) scale(1 1.12)">4</text>
<text class="tl" transform="translate(56.50 629.90) scale(1 1.12)">10</text>
<text class="sp" transform="translate(71.10 622.80) scale(1 1.12)">1</text>
<text class="tl" transform="translate(110.42 629.90) scale(1 1.12)">10</text>
<text class="sp" transform="translate(125.02 622.80) scale(1 1.12)">2</text>
<text class="tl" transform="translate(164.34 629.90) scale(1 1.12)">10</text>
<text class="sp" transform="translate(178.94 622.80) scale(1 1.12)">3</text>
<text class="tl" transform="translate(218.26 629.90) scale(1 1.12)">10</text>
<text class="sp" transform="translate(232.86 622.80) scale(1 1.12)">4</text>
<text class="tl" transform="translate(272.18 629.90) scale(1 1.12)">10</text>
<text class="sp" transform="translate(286.78 622.80) scale(1 1.12)">5</text>
<text class="tl" transform="translate(326.10 629.90) scale(1 1.12)">10</text>
<text class="sp" transform="translate(340.70 622.80) scale(1 1.12)">6</text>
<text x="186.70" y="643.10" class="tt" text-anchor="middle">R [km]</text>
<text x="0" y="0" class="tt2" text-anchor="middle" transform="translate(9.90 477.45) rotate(-90)">Temperature [K]</text>
<line x1="426.80" y1="608.39" x2="430.80" y2="608.39" stroke="#8a8a8a" stroke-width="1"/>
<line x1="426.80" y1="604.17" x2="430.80" y2="604.17" stroke="#8a8a8a" stroke-width="1"/>
<line x1="426.80" y1="600.40" x2="433.80" y2="600.40" stroke="#3a3a3a" stroke-width="1.6"/>
<line x1="426.80" y1="575.60" x2="430.80" y2="575.60" stroke="#8a8a8a" stroke-width="1"/>
<line x1="426.80" y1="561.09" x2="430.80" y2="561.09" stroke="#8a8a8a" stroke-width="1"/>
<line x1="426.80" y1="550.79" x2="430.80" y2="550.79" stroke="#8a8a8a" stroke-width="1"/>
<line x1="426.80" y1="542.80" x2="430.80" y2="542.80" stroke="#8a8a8a" stroke-width="1"/>
<line x1="426.80" y1="536.28" x2="430.80" y2="536.28" stroke="#8a8a8a" stroke-width="1"/>
<line x1="426.80" y1="530.76" x2="430.80" y2="530.76" stroke="#8a8a8a" stroke-width="1"/>
<line x1="426.80" y1="525.99" x2="430.80" y2="525.99" stroke="#8a8a8a" stroke-width="1"/>
<line x1="426.80" y1="521.77" x2="430.80" y2="521.77" stroke="#8a8a8a" stroke-width="1"/>
<line x1="426.80" y1="518.00" x2="433.80" y2="518.00" stroke="#3a3a3a" stroke-width="1.6"/>
<line x1="426.80" y1="493.20" x2="430.80" y2="493.20" stroke="#8a8a8a" stroke-width="1"/>
<line x1="426.80" y1="478.69" x2="430.80" y2="478.69" stroke="#8a8a8a" stroke-width="1"/>
<line x1="426.80" y1="468.39" x2="430.80" y2="468.39" stroke="#8a8a8a" stroke-width="1"/>
<line x1="426.80" y1="460.40" x2="430.80" y2="460.40" stroke="#8a8a8a" stroke-width="1"/>
<line x1="426.80" y1="453.88" x2="430.80" y2="453.88" stroke="#8a8a8a" stroke-width="1"/>
<line x1="426.80" y1="448.36" x2="430.80" y2="448.36" stroke="#8a8a8a" stroke-width="1"/>
<line x1="426.80" y1="443.59" x2="430.80" y2="443.59" stroke="#8a8a8a" stroke-width="1"/>
<line x1="426.80" y1="439.37" x2="430.80" y2="439.37" stroke="#8a8a8a" stroke-width="1"/>
<line x1="426.80" y1="435.60" x2="433.80" y2="435.60" stroke="#3a3a3a" stroke-width="1.6"/>
<line x1="426.80" y1="410.80" x2="430.80" y2="410.80" stroke="#8a8a8a" stroke-width="1"/>
<line x1="426.80" y1="396.29" x2="430.80" y2="396.29" stroke="#8a8a8a" stroke-width="1"/>
<line x1="426.80" y1="385.99" x2="430.80" y2="385.99" stroke="#8a8a8a" stroke-width="1"/>
<line x1="426.80" y1="378.00" x2="430.80" y2="378.00" stroke="#8a8a8a" stroke-width="1"/>
<line x1="426.80" y1="371.48" x2="430.80" y2="371.48" stroke="#8a8a8a" stroke-width="1"/>
<line x1="426.80" y1="365.96" x2="430.80" y2="365.96" stroke="#8a8a8a" stroke-width="1"/>
<line x1="426.80" y1="361.19" x2="430.80" y2="361.19" stroke="#8a8a8a" stroke-width="1"/>
<line x1="426.80" y1="356.97" x2="430.80" y2="356.97" stroke="#8a8a8a" stroke-width="1"/>
<line x1="426.80" y1="353.20" x2="433.80" y2="353.20" stroke="#3a3a3a" stroke-width="1.6"/>
<line x1="435.67" y1="612.90" x2="435.67" y2="609.30" stroke="#8a8a8a" stroke-width="1"/>
<line x1="442.20" y1="612.90" x2="442.20" y2="609.30" stroke="#8a8a8a" stroke-width="1"/>
<line x1="447.27" y1="612.90" x2="447.27" y2="609.30" stroke="#8a8a8a" stroke-width="1"/>
<line x1="451.41" y1="612.90" x2="451.41" y2="609.30" stroke="#8a8a8a" stroke-width="1"/>
<line x1="454.90" y1="612.90" x2="454.90" y2="609.30" stroke="#8a8a8a" stroke-width="1"/>
<line x1="457.94" y1="612.90" x2="457.94" y2="609.30" stroke="#8a8a8a" stroke-width="1"/>
<line x1="460.61" y1="612.90" x2="460.61" y2="609.30" stroke="#8a8a8a" stroke-width="1"/>
<line x1="463.00" y1="612.90" x2="463.00" y2="606.60" stroke="#3a3a3a" stroke-width="1.6"/>
<line x1="478.73" y1="612.90" x2="478.73" y2="609.30" stroke="#8a8a8a" stroke-width="1"/>
<line x1="487.93" y1="612.90" x2="487.93" y2="609.30" stroke="#8a8a8a" stroke-width="1"/>
<line x1="494.46" y1="612.90" x2="494.46" y2="609.30" stroke="#8a8a8a" stroke-width="1"/>
<line x1="499.53" y1="612.90" x2="499.53" y2="609.30" stroke="#8a8a8a" stroke-width="1"/>
<line x1="503.67" y1="612.90" x2="503.67" y2="609.30" stroke="#8a8a8a" stroke-width="1"/>
<line x1="507.16" y1="612.90" x2="507.16" y2="609.30" stroke="#8a8a8a" stroke-width="1"/>
<line x1="510.20" y1="612.90" x2="510.20" y2="609.30" stroke="#8a8a8a" stroke-width="1"/>
<line x1="512.87" y1="612.90" x2="512.87" y2="609.30" stroke="#8a8a8a" stroke-width="1"/>
<line x1="515.26" y1="612.90" x2="515.26" y2="606.60" stroke="#3a3a3a" stroke-width="1.6"/>
<line x1="530.99" y1="612.90" x2="530.99" y2="609.30" stroke="#8a8a8a" stroke-width="1"/>
<line x1="540.19" y1="612.90" x2="540.19" y2="609.30" stroke="#8a8a8a" stroke-width="1"/>
<line x1="546.72" y1="612.90" x2="546.72" y2="609.30" stroke="#8a8a8a" stroke-width="1"/>
<line x1="551.79" y1="612.90" x2="551.79" y2="609.30" stroke="#8a8a8a" stroke-width="1"/>
<line x1="555.93" y1="612.90" x2="555.93" y2="609.30" stroke="#8a8a8a" stroke-width="1"/>
<line x1="559.42" y1="612.90" x2="559.42" y2="609.30" stroke="#8a8a8a" stroke-width="1"/>
<line x1="562.46" y1="612.90" x2="562.46" y2="609.30" stroke="#8a8a8a" stroke-width="1"/>
<line x1="565.13" y1="612.90" x2="565.13" y2="609.30" stroke="#8a8a8a" stroke-width="1"/>
<line x1="567.52" y1="612.90" x2="567.52" y2="606.60" stroke="#3a3a3a" stroke-width="1.6"/>
<line x1="583.25" y1="612.90" x2="583.25" y2="609.30" stroke="#8a8a8a" stroke-width="1"/>
<line x1="592.45" y1="612.90" x2="592.45" y2="609.30" stroke="#8a8a8a" stroke-width="1"/>
<line x1="598.98" y1="612.90" x2="598.98" y2="609.30" stroke="#8a8a8a" stroke-width="1"/>
<line x1="604.05" y1="612.90" x2="604.05" y2="609.30" stroke="#8a8a8a" stroke-width="1"/>
<line x1="608.19" y1="612.90" x2="608.19" y2="609.30" stroke="#8a8a8a" stroke-width="1"/>
<line x1="611.68" y1="612.90" x2="611.68" y2="609.30" stroke="#8a8a8a" stroke-width="1"/>
<line x1="614.72" y1="612.90" x2="614.72" y2="609.30" stroke="#8a8a8a" stroke-width="1"/>
<line x1="617.39" y1="612.90" x2="617.39" y2="609.30" stroke="#8a8a8a" stroke-width="1"/>
<line x1="619.78" y1="612.90" x2="619.78" y2="606.60" stroke="#3a3a3a" stroke-width="1.6"/>
<line x1="635.51" y1="612.90" x2="635.51" y2="609.30" stroke="#8a8a8a" stroke-width="1"/>
<line x1="644.71" y1="612.90" x2="644.71" y2="609.30" stroke="#8a8a8a" stroke-width="1"/>
<line x1="651.24" y1="612.90" x2="651.24" y2="609.30" stroke="#8a8a8a" stroke-width="1"/>
<line x1="656.31" y1="612.90" x2="656.31" y2="609.30" stroke="#8a8a8a" stroke-width="1"/>
<line x1="660.45" y1="612.90" x2="660.45" y2="609.30" stroke="#8a8a8a" stroke-width="1"/>
<line x1="663.94" y1="612.90" x2="663.94" y2="609.30" stroke="#8a8a8a" stroke-width="1"/>
<line x1="666.98" y1="612.90" x2="666.98" y2="609.30" stroke="#8a8a8a" stroke-width="1"/>
<line x1="669.65" y1="612.90" x2="669.65" y2="609.30" stroke="#8a8a8a" stroke-width="1"/>
<line x1="672.04" y1="612.90" x2="672.04" y2="606.60" stroke="#3a3a3a" stroke-width="1.6"/>
<line x1="687.77" y1="612.90" x2="687.77" y2="609.30" stroke="#8a8a8a" stroke-width="1"/>
<line x1="696.97" y1="612.90" x2="696.97" y2="609.30" stroke="#8a8a8a" stroke-width="1"/>
<line x1="703.50" y1="612.90" x2="703.50" y2="609.30" stroke="#8a8a8a" stroke-width="1"/>
<line x1="708.57" y1="612.90" x2="708.57" y2="609.30" stroke="#8a8a8a" stroke-width="1"/>
<line x1="712.71" y1="612.90" x2="712.71" y2="609.30" stroke="#8a8a8a" stroke-width="1"/>
<line x1="716.20" y1="612.90" x2="716.20" y2="609.30" stroke="#8a8a8a" stroke-width="1"/>
<line x1="719.24" y1="612.90" x2="719.24" y2="609.30" stroke="#8a8a8a" stroke-width="1"/>
<line x1="721.91" y1="612.90" x2="721.91" y2="609.30" stroke="#8a8a8a" stroke-width="1"/>
<line x1="724.30" y1="612.90" x2="724.30" y2="606.60" stroke="#3a3a3a" stroke-width="1.6"/>
<path d="M426.80 341.60 V612.90 H724.70" fill="none" stroke="#333333" stroke-width="1.7"/>
<text class="tl" text-anchor="end" transform="translate(417.90 605.60) scale(1 1.12)">10</text>
<text class="sp" transform="translate(418.10 598.20) scale(1 1.12)">1</text>
<text class="tl" text-anchor="end" transform="translate(417.90 523.20) scale(1 1.12)">10</text>
<text class="sp" transform="translate(418.10 515.80) scale(1 1.12)">2</text>
<text class="tl" text-anchor="end" transform="translate(417.90 440.80) scale(1 1.12)">10</text>
<text class="sp" transform="translate(418.10 433.40) scale(1 1.12)">3</text>
<text class="tl" text-anchor="end" transform="translate(417.90 358.40) scale(1 1.12)">10</text>
<text class="sp" transform="translate(418.10 351.00) scale(1 1.12)">4</text>
<text class="tl" transform="translate(453.60 628.40) scale(1 1.12)">10</text>
<text class="sp" transform="translate(468.20 621.30) scale(1 1.12)">1</text>
<text class="tl" transform="translate(505.86 628.40) scale(1 1.12)">10</text>
<text class="sp" transform="translate(520.46 621.30) scale(1 1.12)">2</text>
<text class="tl" transform="translate(558.12 628.40) scale(1 1.12)">10</text>
<text class="sp" transform="translate(572.72 621.30) scale(1 1.12)">3</text>
<text class="tl" transform="translate(610.38 628.40) scale(1 1.12)">10</text>
<text class="sp" transform="translate(624.98 621.30) scale(1 1.12)">4</text>
<text class="tl" transform="translate(662.64 628.40) scale(1 1.12)">10</text>
<text class="sp" transform="translate(677.24 621.30) scale(1 1.12)">5</text>
<text class="tl" transform="translate(714.90 628.40) scale(1 1.12)">10</text>
<text class="sp" transform="translate(729.50 621.30) scale(1 1.12)">6</text>
<text x="575.55" y="639.30" class="tt" text-anchor="middle">R [km]</text>
<text x="0" y="0" class="tt2" text-anchor="middle" transform="translate(399.00 477.45) rotate(-90)">Temperature [K]</text>
<line x1="231.9" y1="39.40" x2="279.4" y2="39.40" stroke="#202020" stroke-width="1.7"/>
<text x="287.7" y="43.00" class="lg">H2O</text>
<line x1="231.9" y1="52.00" x2="279.4" y2="52.00" stroke="#ff9438" stroke-width="1.7"/>
<text x="287.7" y="55.60" class="lg">OH</text>
<line x1="231.9" y1="64.55" x2="279.4" y2="64.55" stroke="#18d418" stroke-width="1.7"/>
<text x="287.7" y="68.15" class="lg">O</text>
<line x1="231.9" y1="77.45" x2="279.4" y2="77.45" stroke="#d61e1e" stroke-width="1.7"/>
<text x="287.7" y="81.05" class="lg">H</text>
<line x1="231.9" y1="90.40" x2="279.4" y2="90.40" stroke="#4646ff" stroke-width="1.7"/>
<text x="287.7" y="94.00" class="lg">H2</text>
<line x1="231.9" y1="379.90" x2="279.4" y2="379.90" stroke="#202020" stroke-width="1.7"/>
<text x="287.7" y="383.50" class="lg">H2O</text>
<line x1="231.9" y1="392.50" x2="279.4" y2="392.50" stroke="#ff9438" stroke-width="1.7"/>
<text x="287.7" y="396.10" class="lg">OH</text>
<line x1="231.9" y1="405.05" x2="279.4" y2="405.05" stroke="#18d418" stroke-width="1.7"/>
<text x="287.7" y="408.65" class="lg">O</text>
<line x1="231.9" y1="417.95" x2="279.4" y2="417.95" stroke="#d61e1e" stroke-width="1.7"/>
<text x="287.7" y="421.55" class="lg">H</text>
<line x1="231.9" y1="430.90" x2="279.4" y2="430.90" stroke="#4646ff" stroke-width="1.7"/>
<text x="287.7" y="434.50" class="lg">H2</text>
<line x1="619.7" y1="29.30" x2="667.1" y2="29.30" stroke="#202020" stroke-width="1.7"/>
<text x="675.8" y="32.90" class="lg">H2O</text>
<line x1="619.7" y1="41.90" x2="667.1" y2="41.90" stroke="#ff9438" stroke-width="1.7"/>
<text x="675.8" y="45.50" class="lg">OH</text>
<line x1="619.7" y1="54.60" x2="667.1" y2="54.60" stroke="#18d418" stroke-width="1.7"/>
<text x="675.8" y="58.20" class="lg">O</text>
<line x1="619.7" y1="67.30" x2="667.1" y2="67.30" stroke="#d61e1e" stroke-width="1.7"/>
<text x="675.8" y="70.90" class="lg">H</text>
<line x1="619.7" y1="79.90" x2="667.1" y2="79.90" stroke="#4646ff" stroke-width="1.7"/>
<text x="675.8" y="83.50" class="lg">H2</text>
<line x1="619.7" y1="369.70" x2="667.1" y2="369.70" stroke="#202020" stroke-width="1.7"/>
<text x="675.8" y="373.30" class="lg">H2O</text>
<line x1="619.7" y1="382.30" x2="667.1" y2="382.30" stroke="#ff9438" stroke-width="1.7"/>
<text x="675.8" y="385.90" class="lg">OH</text>
<line x1="619.7" y1="395.00" x2="667.1" y2="395.00" stroke="#18d418" stroke-width="1.7"/>
<text x="675.8" y="398.60" class="lg">O</text>
<line x1="619.7" y1="407.70" x2="667.1" y2="407.70" stroke="#d61e1e" stroke-width="1.7"/>
<text x="675.8" y="411.30" class="lg">H</text>
<line x1="619.7" y1="420.30" x2="667.1" y2="420.30" stroke="#4646ff" stroke-width="1.7"/>
<text x="675.8" y="423.90" class="lg">H2</text>
</svg>
</body></html>
